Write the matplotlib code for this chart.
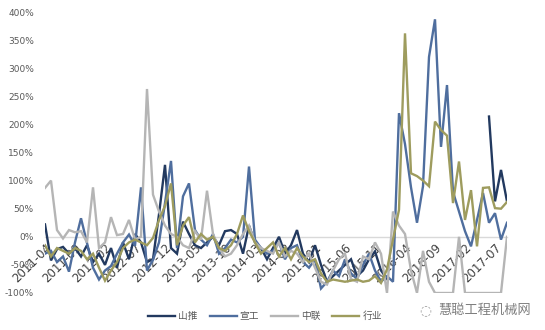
import numpy as np
import matplotlib
matplotlib.use("Agg")
import matplotlib.pyplot as plt

plt.rcParams['font.family'] = ['DejaVu Sans', 'Noto Sans CJK SC']

# monthly data 2011-04 .. 2017-09 (YoY growth, %)
start_year, start_month, n_points = 2011, 4, 78
month_labels = []
for k in range(n_points):
    m = start_month - 1 + k
    month_labels.append(f"{start_year + m // 12}-{m % 12 + 1:02d}")

tick_labels = ["2011-04", "2011-09", "2012-02", "2012-07", "2012-12", "2013-05",
               "2013-10", "2014-03", "2014-08", "2015-01", "2015-06", "2015-11",
               "2016-04", "2016-09", "2017-02", "2017-07"]

nan = np.nan
shantui = [22, -42, -22, -18, -30, -20, -35, -15, -45, -30,
           -50, -20, -55, -10, -40, 5, -10, -45, -40, 40,
           128, -20, -30, 27, 5, -15, -20, -10, 0, -15,
           10, 12, 5, -30, 20, -10, -20, -40, -20, 0,
           -30, -15, 12, -30, -45, -15, -50, -80, -70, -60,
           -50, -40, -70, -60, -40, -26, -60, -75, nan, nan,
           nan, nan, nan, nan, nan, nan, nan, nan, nan, nan,
           nan, nan, nan, nan, 214, 63, 119, 63]

xuangong = [-30, -25, -45, -35, -62, -10, 33, -11, -55, -76,
            -60, -52, -30, -10, 4, -16, 88, -60, -41, -10,
            60, 135, -20, 72, 95, 12, -5, -15, 5, -30,
            -20, -5, -10, 0, 125, -5, -20, -30, -25, -10,
            -40, -20, -15, -45, -55, -40, -92, -80, -60, -70,
            -40, -65, -75, -50, -30, -60, -80, -70, -80, 220,
            165, 88, 25, 90, 320, 387, 160, 270, 80, 45,
            10, -17, 30, 78, 25, 42, -5, 25]

zhonglian = [87, 100, 12, -3, 12, 8, 10, -10, 88, -20,
             -10, 35, 3, 5, 30, -5, 0, 263, 75, 45,
             20, 5, 0, -15, -20, 10, -5, 82, 5, -20,
             -35, -30, -15, 5, 20, -10, -20, -25, -30, -10,
             -35, -25, -30, -45, -30, -55, -80, -85, -60, -40,
             -30, -75, -80, -35, -40, -10, -30, -100, 45, 20,
             5, -60, -100, -25, -80, -100, -100, -100, -100, 0,
             -100, -100, -100, -100, -100, -100, -100, 0]

industry = [-15, -35, -20, -25, -30, -20, -25, -40, -30, -55,
            -78, -60, -45, -20, -10, -5, -10, -15, -2, 30,
            55, 95, -15, 20, 35, -10, 5, -5, 0, -20,
            -25, -15, 5, 38, 10, -10, -30, -20, -10, -35,
            -20, -40, -20, -35, -45, -40, -65, -80, -76, -78,
            -80, -78, -76, -80, -78, -70, -82, -58, -5, 48,
            362, 113, 108, 100, 90, 205, 190, 180, 60, 134,
            30, 83, -17, 87, 88, 51, 50, 62]

series_names = ["山推", "宣工", "中联", "行业"]
series_values = [shantui, xuangong, zhonglian, industry]
series_colors = ["#22395f", "#4f6e9e", "#b5b5b5", "#9e9c5e"]

fig = plt.figure(figsize=(5.45, 3.30), dpi=100)
ax = fig.add_axes([45 / 545, 37 / 330, 462 / 545, 281 / 330])

x = np.arange(n_points)
for name, vals, col in zip(series_names, series_values, series_colors):
    ax.plot(x, np.array(vals, dtype=float), color=col, lw=1.7, label=name,
            solid_joinstyle='miter')

ax.set_xlim(0, n_points - 1)
ax.set_ylim(-100, 400)

for s in ['top', 'right', 'left']:
    ax.spines[s].set_visible(False)
ax.spines['bottom'].set_position(('data', 0))
ax.spines['bottom'].set_color('#d9d9d9')
ax.spines['bottom'].set_linewidth(1.0)
ax.spines['bottom'].set_zorder(0.5)

ax.tick_params(axis='y', length=0, labelsize=6.5, labelcolor='#595959', pad=8)
ax.tick_params(axis='x', length=0, labelsize=8.5, labelcolor='#404040', pad=3)

ax.set_yticks(np.arange(-100, 401, 50))
ax.set_yticklabels([f"{v}%" for v in range(-100, 401, 50)])

tick_pos = [month_labels.index(t) for t in tick_labels]
ax.set_xticks(tick_pos)
ax.set_xticklabels(tick_labels)
for lab in ax.get_xticklabels():
    lab.set_rotation(45)
    lab.set_ha('right')
    lab.set_va('top')
    lab.set_rotation_mode('anchor')

leg = fig.legend(loc='center', bbox_to_anchor=(265 / 545, 1 - 316 / 330), ncol=4,
                 frameon=False, fontsize=7, handlelength=2.8, columnspacing=1.2,
                 handletextpad=0.3)
for t in leg.get_texts():
    t.set_color('#595959')
    t.set_family(['Noto Sans CJK SC', 'DejaVu Sans'])

fig.text(438 / 545, 1 - 310 / 330, "慧聪工程机械网", fontsize=9.5, color='#7f7f7f',
         family=['Noto Sans CJK SC', 'DejaVu Sans'], va='center', ha='left')
fig.text(425 / 545, 1 - 310 / 330, "◌", fontsize=10, color='#9f9f9f',
         va='center', ha='center')

fig.savefig("out.png", dpi=100)
